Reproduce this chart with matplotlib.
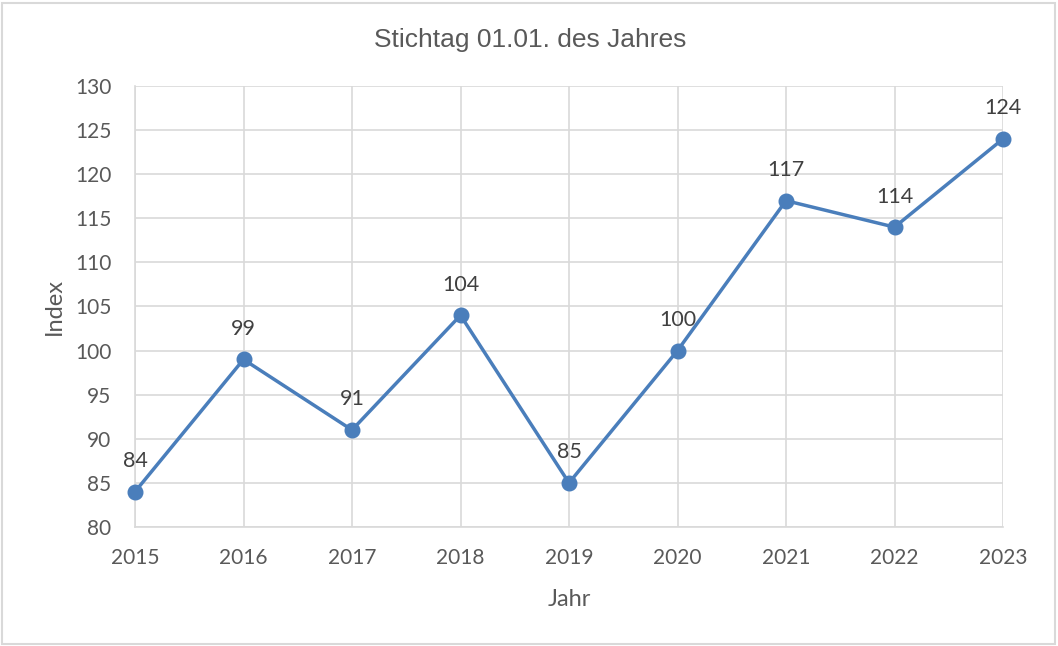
"""Index chart, Stichtag 01.01."""

import matplotlib
matplotlib.use("Agg")
import matplotlib.pyplot as plt
from matplotlib.patches import Rectangle

years = [2015, 2016, 2017, 2018, 2019, 2020, 2021, 2022, 2023]
index_values = [84, 99, 91, 104, 85, 100, 117, 114, 124]
y_ticks = [80, 85, 90, 95, 100, 105, 110, 115, 120, 125, 130]

LINE_COLOR = "#4a7ebb"
GRID_COLOR = "#d9d9d9"
TEXT_COLOR = "#595959"

fig = plt.figure(figsize=(10.58, 6.46), dpi=100)
ax = fig.add_axes([135 / 1058, 1 - 527 / 646, (1003 - 135) / 1058, (527 - 86) / 646])

# outer chart border
fig.patches.append(Rectangle((0.002, 0.003), 0.995, 0.993, transform=fig.transFigure,
                             fill=False, edgecolor=GRID_COLOR, linewidth=1.5))

ax.plot(years, index_values, color=LINE_COLOR, linewidth=2.5, marker="o",
        markersize=10.5, zorder=5, clip_on=False)

for x, y in zip(years, index_values):
    ax.annotate(str(y), (x, y), xytext=(0, 22), textcoords="offset points",
                ha="center", va="center", fontsize=15.5, color="#404040",
                family="Lato")

ax.set_xlim(years[0], years[-1])
ax.set_ylim(y_ticks[0], y_ticks[-1])
ax.set_xticks(years)
ax.set_yticks(y_ticks)
ax.grid(True, color=GRID_COLOR, linewidth=1.2)
ax.set_axisbelow(True)
for side in ax.spines:
    ax.spines[side].set_visible(False)
ax.spines["left"].set_visible(True)
ax.spines["bottom"].set_visible(True)
ax.spines["left"].set_color(GRID_COLOR)
ax.spines["bottom"].set_color(GRID_COLOR)
ax.spines["left"].set_linewidth(1.2)
ax.spines["bottom"].set_linewidth(1.2)
ax.tick_params(axis="x", length=0, pad=15, labelsize=15, labelcolor=TEXT_COLOR)
ax.tick_params(axis="y", length=0, pad=17, labelsize=15, labelcolor=TEXT_COLOR)
for lbl in ax.get_xticklabels() + ax.get_yticklabels():
    lbl.set_family("Lato")

ax.set_xlabel("Jahr", fontsize=17, color=TEXT_COLOR, family="Lato", labelpad=15)
ax.set_ylabel("Index", fontsize=17, color=TEXT_COLOR, family="Lato", labelpad=7)
fig.text(530 / 1058, 1 - 40 / 646, "Stichtag 01.01. des Jahres", ha="center",
         va="center", fontsize=19, color=TEXT_COLOR, family="Liberation Sans")

fig.savefig("out.png", dpi=100, facecolor="white")
